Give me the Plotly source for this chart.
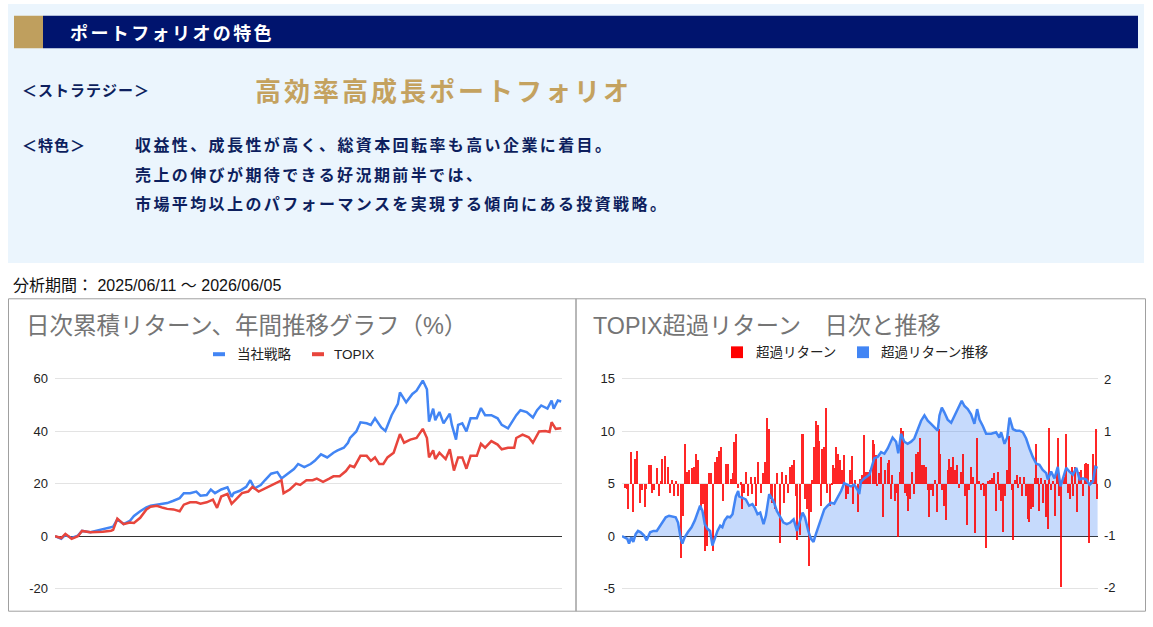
import plotly.graph_objects as go

# ---------------- data ----------------
# Left chart: cumulative daily return (%), x = trading-day index
strategy_day = [0, 3, 5, 8, 11, 13, 17, 20, 23, 27, 28, 30, 33, 36, 38, 41, 44, 46, 49, 52, 54, 57, 60, 62, 65,
                68, 70, 73, 75, 77, 80, 83, 85, 86, 89, 92, 94, 96, 99, 101, 104, 107, 109, 112, 115, 117, 120,
                123, 125, 128, 131, 134, 136, 139, 141, 142, 145, 147, 150, 152, 154, 157, 159, 162, 165, 166,
                169, 172, 174, 177, 179, 180, 182, 183, 185, 187, 190, 191, 193, 194, 196, 198, 200, 203, 205,
                207, 210, 213, 215, 218, 220, 222, 224, 227, 230, 232, 234, 237, 239, 240, 242, 243.6]
strategy_ret = [0, -1, 0.5, -0.7, 0.2, 2, 1.5, 2, 2.7, 3.3, 3.6, 6.4, 4.6, 5.8, 7.7, 9.5, 11, 11.6, 12, 12.6, 12.6,
                13.5, 14.5, 16.4, 16.4, 17, 15.4, 15.7, 17.8, 16.4, 17.8, 18.6, 15, 16.4, 17.3, 18.8, 21.3, 18.2,
                19.5, 21.3, 23.8, 24.4, 22, 23.8, 25.6, 27.5, 26.3, 27.5, 28.7, 31.2, 30, 31.8, 32.7, 33.7, 35.6,
                37.4, 39.9, 43.4, 43, 42.4, 44.9, 41.4, 40.1, 46.1, 50.4, 54.8, 51, 54.2, 55.4, 59.3, 56, 43.6,
                48.6, 44.2, 47.3, 43, 46.7, 42.4, 36.8, 42.4, 43, 39.9, 44.9, 44.9, 48.8, 46.1, 46.1, 44.9, 42.4,
                41.1, 43.6, 46.1, 48, 47.3, 45.2, 48, 49.8, 48.6, 51.7, 48.6, 51.7, 51.3]
topix_day = [0, 3, 5, 8, 11, 13, 17, 20, 23, 27, 28, 30, 33, 36, 38, 41, 44, 46, 49, 52, 54, 57, 60, 62, 65, 68,
             70, 73, 76, 78, 80, 83, 85, 87, 90, 93, 95, 98, 101, 103, 106, 109, 110, 113, 116, 118, 121, 124,
             126, 129, 132, 134, 137, 140, 142, 144, 147, 150, 152, 154, 156, 158, 160, 163, 166, 168, 171, 174,
             177, 179, 180, 182, 183, 185, 188, 190, 192, 194, 196, 198, 200, 203, 205, 207, 210, 213, 215, 218,
             221, 222, 225, 228, 230, 233, 236, 238, 239, 241, 243.6]
topix_ret = [0, -0.7, 0.9, -1, 0, 2, 1.5, 1.5, 1.7, 2.1, 2.4, 6.7, 4.6, 5.2, 5, 7, 10.2, 11.2, 11.6, 10.8, 10.4,
             10.2, 9.5, 12, 12.9, 12.9, 12.4, 12.9, 13.9, 10.8, 15.1, 16.1, 12.3, 13.9, 16.4, 17, 18.8, 17, 18.2,
             18.8, 20, 21.3, 16.4, 17.8, 20, 19.5, 21.3, 21.3, 21.9, 20.7, 21.9, 22.8, 22.8, 24.8, 26.9, 26.3,
             30.6, 30.6, 28.7, 30, 27.5, 27.5, 30, 31.8, 38.9, 35.6, 36.8, 37.4, 40.9, 37.4, 30, 32.7, 29.4, 31.8,
             29.4, 33.1, 25, 30, 30, 25.7, 30.6, 30.6, 35.2, 33.7, 36.2, 34.9, 33.1, 33.7, 33.7, 37.4, 38.7, 37.7,
             35.6, 39.9, 40.1, 39.7, 43.4, 40.9, 41.1]

# Right chart: daily excess return (right axis) and its running total (left axis)
excess_day = [1.5, 2.4, 3.2, 4.8, 5.6, 6.7, 7.9, 9.2, 10.4, 11.6, 12.6, 13.8, 14.7, 15.5, 16.6, 17.8, 19.0, 19.8,
              20.7, 22.0, 23.4, 24.6, 25.6, 26.7, 27.9, 28.9, 30.1, 31.3, 32.3, 33.5, 34.4, 35.7, 36.9, 38.1, 39.1,
              40.3, 41.5, 42.6, 43.6, 44.6, 45.5, 46.8, 47.7, 48.7, 49.7, 50.6, 51.8, 53.2, 54.2, 55.7, 56.9, 57.6,
              58.6, 59.6, 61.0, 61.7, 62.7, 63.4, 64.6, 66.0, 66.8, 68.0, 68.5, 69.9, 71.1, 72.3, 73.3, 74.5, 75.4,
              76.2, 77.1, 78.5, 79.7, 80.9, 82.2, 83.1, 83.9, 85.3, 86.2, 87.3, 88.2, 89.1, 89.9, 91.1, 92.1, 92.8,
              93.7, 94.9, 95.9, 96.8, 97.6, 98.5, 99.3, 100.3, 101.0, 101.9, 102.7, 103.6, 104.4, 105.3, 106.5,
              107.4, 108.2, 109.3, 109.9, 110.9, 111.9, 113.0, 114.0, 114.7, 115.7, 116.8, 117.8, 118.5, 119.5,
              120.7, 121.9, 122.9, 123.8, 125.0, 126.0, 127.1,
              128.4, 129.2, 130.1, 130.9, 131.8, 132.8, 133.8, 134.9, 136.1, 136.9, 137.8, 138.6, 139.7, 140.7,
              141.4, 142.4, 143.1, 144.1, 145.1, 146.2, 146.8, 147.5, 148.5, 149.6, 150.6, 151.6, 152.7, 153.7,
              154.7, 155.7, 156.6, 157.4, 158.5, 159.5, 160.5, 161.5, 162.2, 163.1, 163.9, 164.9, 166.0, 167.0,
              167.7, 168.7, 169.7, 170.8, 171.8, 172.8, 173.8, 174.9, 175.9, 176.6, 177.6, 178.6, 179.7, 180.7,
              181.7, 182.7, 183.8, 184.8, 185.6, 186.5, 187.5, 188.6, 189.6, 190.6, 191.6, 192.7, 193.3, 194.0,
              195.0, 196.1, 197.1, 198.1, 198.8, 199.8, 200.5, 201.2, 202.2, 202.9, 203.9, 205.0, 206.0, 207.0,
              207.9, 208.7, 209.7, 210.4, 211.5, 212.1, 213.2, 213.8, 214.9, 215.6, 216.6, 217.3, 218.3, 219.0,
              219.8, 220.7, 221.7, 222.7, 223.4, 224.1, 225.1, 226.2, 226.8, 227.5, 228.5, 229.6, 230.6, 231.3,
              232.3, 233.0, 234.0, 235.1, 236.1, 237.1, 237.8, 238.5, 239.5, 240.2, 241.2, 241.9, 242.6, 243.6]
excess_ret = [-0.07, -0.1, -0.48, 0.61, -0.53, 0.49, 0.64, -0.36, -0.11, -0.45, -0.1, 0.36, 0.36, -0.17, -0.11,
              0.30, -0.23, 0.05, 0.49, 0.53, 0.33, -0.17, 0.07, -0.23, 0.05, -0.23, -1.42, -0.61, 0.77, 0.24, 0.27,
              0.30, 0.33, 0.58, 0.46, -0.48, -0.39, -1.29, -1.2, 0.22, 0.21, -1.29, 0.43, 0.52, 0.64, 0.71, -0.33,
              0.39, 0.38, 0.09, 0.21, 0.80, 0.96, -0.07, 0.03, -0.48, -0.17, 0.24, -0.23, 0.14, -0.2, 0.14, -0.42,
              0.43, -0.17, 0.21, 0.43, 1.27, 1.05, -0.29, -0.36, -0.48, 0.21, -1.14, 0.24, -0.36, 0.18, -0.17, 0.33,
              0.36, 0.46, -0.23, -1.08, -0.98, 0.96, 0.96, -0.29, -0.48, -1.58, -0.54, 0.08, 0.71, 1.21, 1.14, 0.83,
              -0.42, 0.68, 0.71, 1.46, -0.17, -0.42, 0.02, 0.36, 0.3, 0.71, 0.58, 0.46, 0.27, 0.55, -0.29, -0.2,
              0.27, 0.53, -0.39, 0.08, -0.54, 0.09, 0.18, 0.94, 0.24, 0.24, 0.27,
              0.84, 0.77, 0.55, -0.04, 0.21, 0.52, -0.64, 0.27, 0.41, 0.46, -0.29, 0.18, -0.33, -0.17, -1.01, 0.24,
              1.08, 1.02, -0.17, -0.23, -0.51, -0.29, 0.24, -0.2, 0.58, 0.61, 0.89, 0.36, 0.36, 0.33, -0.11, -0.64,
              -0.11, -0.23, 0.08, -0.54, 1.05, 0.58, -0.11, -0.42, -0.7, 0.27, 0.49, 0.33, 0.52, 0.27, 0.36, -0.07,
              0.24, 0.58, -0.23, -0.79, -0.11, 0.33, 0.14, -0.95, 0.89, 0.05, -0.11, 0.02, -0.23, -1.23, 0.05, 0.08,
              0.11, 0.21, -0.51, 0.24, -0.11, -0.33, -0.92, -0.23, 0.27, 0.93, 0.71, -0.11, -1.08, 0.08, 0.18,
              -0.07, 0.14, -0.23, 0.14, -0.23, -0.67, -0.73, -0.48, -0.45, 0.11, 0.77, 0.11, -0.51, 0.11, -0.36,
              0.08, -0.64, -0.86, 1.08, -0.11, 0.05, -0.61, 0.21, 0.89, -0.23, -1.98, 0.11, 0.14, 0.96, -0.17,
              -0.29, 0.33, -0.23, 0.33, -0.54, 0.24, 0.27, -0.23, 0.39, 0.41, 0.39, -1.14, 0.08, 0.58, 0.27, 1.05,
              -0.29]
cum_day = [0, 2.7, 3.6, 4.8, 5.8, 7.0, 8.2, 9.6, 11.3, 12.6, 14.4, 16.1, 17.8, 19.0, 20.7, 22.4, 24.1, 25.8, 27.5,
           28.7, 30.1, 30.9, 32.1, 33.8, 35.6, 37.3, 39.0, 40.0, 41.2, 42.4, 43.8, 45.1, 46.3, 47.5, 48.9, 50.3,
           51.4, 52.6, 54.0, 55.4, 56.6, 58.3, 59.5, 60.0, 61.7, 63.4, 65.1, 66.8, 68.0, 69.4, 70.8, 72.5, 73.7,
           75.4, 76.6, 77.9, 79.3, 81.0, 82.7, 84.4, 86.2, 87.9, 89.6, 90.9, 92.5, 93.7, 95.4, 96.8, 98.1, 99.3,
           101.0, 102.2, 103.6, 105.3, 107.0, 108.7, 110.4, 112.2, 113.8, 115.5, 117.3, 119.0, 120.7, 121.5, 122.4,
           124.1, 126.7, 129.2, 130.9, 132.7, 134.4, 136.1, 137.4, 138.6, 140.4, 141.5, 142.9, 144.6, 146.3, 148.1,
           149.7, 151.4, 153.2, 154.9, 156.6, 158.3, 160.0, 161.7, 162.6, 163.8, 165.1, 166.8, 168.6, 170.3, 171.9,
           174.0, 175.4, 177.1, 178.8, 180.5, 181.9, 183.1, 184.8, 186.5, 189.1, 191.6, 193.3, 194.2, 195.9, 197.3,
           198.5, 200.2, 201.9, 203.6, 205.3, 207.0, 208.7, 210.4, 212.2, 213.8, 215.5, 217.3, 218.1, 219.8, 221.5,
           223.2, 224.6, 225.8, 227.5, 229.2, 230.9, 232.7, 234.4, 236.1, 237.8, 239.5, 241.2, 242.4, 243.6]
cum_ret = [0, -0.25, -0.7, -0.1, -0.55, 0.2, 0.5, 0.37, 0.06, -0.4, 0.37, 0.5, 0.5, 0.85, 1.3, 1.8, 1.95, 1.85, 1.8,
           1.3, -0.25, -0.7, -0.1, 0.4, 0.85, 1.5, 2.4, 2.9, 2.4, 1.15, 0.7, 0.5, -0.9, -0.25, 0.5, 1.0, 0.85, 1.5,
           1.85, 1.8, 2.1, 3.8, 4.3, 3.8, 3.65, 3.5, 2.9, 3.05, 2.7, 2.1, 2.25, 1.15, 1.95, 4.0, 3.65, 3.2, 2.4, 1.8,
           1.3, 1.15, 1.3, 1.6, 0.5, 1.3, 2.25, 1.8, 0.5, -0.25, -0.55, 0.2, 1.15, 1.8, 2.55, 2.9, 3.2, 3.1, 3.7,
           4.3, 5.05, 4.9, 4.75, 4.9, 4.4, 4.0, 5.2, 5.5, 5.85, 7.4, 7.55, 8.0, 7.85, 8.35, 9.0, 9.4, 9.0, 7.9,
           9.75, 9.0, 8.8, 9.0, 9.3, 10.2, 11.0, 11.5, 11.0, 10.7, 10.4, 10.05, 11.5, 12.25, 11.8, 11.1, 10.8,
           11.5, 12.1, 12.9, 12.4, 12.1, 11.6, 10.7, 12.1, 11.1, 10.5, 9.75, 9.75, 9.9, 9.4, 9.9, 8.8, 9.4, 11.3,
           10.2, 10.05, 10.05, 9.9, 9.3, 8.35, 7.55, 6.9, 6.8, 6.3, 6.0, 5.4, 6.15, 5.5, 6.6, 4.75, 5.5, 6.5,
           6.15, 5.85, 6.5, 5.4, 5.5, 5.4, 4.9, 5.2, 6.6, 6.5]

left_tickvals = [-20, 0, 20, 40, 60]
left_ticktext = ["-20", "0", "20", "40", "60"]
right_l_tickvals = [-5, 0, 5, 10, 15]
right_l_ticktext = ["-5", "0", "5", "10", "15"]
right_r_tickvals = [-2, -1, 0, 1, 2]
right_r_ticktext = ["-2", "-1", "0", "1", "2"]

# ---------------- layout helpers ----------------
W, H = 1153, 627
def X(p): return p / W
def Y(p): return 1 - p / H

JP = "Noto Sans CJK JP, sans-serif"
AR = "Liberation Sans, Arial, Noto Sans CJK JP, sans-serif"
NAVY = "#0D1F5E"
GOLD = "#C4A25F"
BLUE = "#4285F4"

fig = go.Figure()
fig.add_trace(go.Scatter(x=strategy_day, y=strategy_ret, mode="lines", line=dict(color=BLUE, width=2.5),
                         xaxis="x", yaxis="y", showlegend=False, hoverinfo="skip"))
fig.add_trace(go.Scatter(x=topix_day, y=topix_ret, mode="lines", line=dict(color="#E8453C", width=2.5),
                         xaxis="x", yaxis="y", showlegend=False, hoverinfo="skip"))
# area fill (base axis y3, left side)
fig.add_trace(go.Scatter(x=cum_day, y=cum_ret, mode="lines", fill="tozeroy", fillcolor="rgba(66,133,244,0.3)",
                         line=dict(color="rgba(0,0,0,0)", width=0), xaxis="x2", yaxis="y3",
                         showlegend=False, hoverinfo="skip"))
# daily bars (overlay axis y4, right side)
fig.add_trace(go.Bar(x=excess_day, y=excess_ret, width=0.65, opacity=0.85,
                     marker=dict(color="#FF0000", line=dict(width=0)),
                     xaxis="x2", yaxis="y4", showlegend=False, hoverinfo="skip"))
# running-total line on top (overlay axis y5, same scale as y3)
fig.add_trace(go.Scatter(x=cum_day, y=cum_ret, mode="lines", line=dict(color=BLUE, width=2.5),
                         xaxis="x2", yaxis="y5", showlegend=False, hoverinfo="skip"))

tickfont = dict(family=AR, size=13, color="#222222")
ydom = [Y(595.1), Y(378.9)]

fig.update_layout(
    width=W, height=H, margin=dict(l=0, r=0, t=0, b=0),
    paper_bgcolor="white", plot_bgcolor="rgba(0,0,0,0)", showlegend=False, bargap=0,
    xaxis=dict(domain=[X(55), X(562)], range=[0, 244], visible=False, anchor="y"),
    yaxis=dict(domain=ydom, range=[-20.4, 60.4], anchor="x", tickvals=left_tickvals, ticktext=left_ticktext,
               showgrid=True, gridcolor="#E3E3E3", gridwidth=1, zeroline=True, zerolinecolor="#333333",
               zerolinewidth=1, showline=False, ticks="", tickfont=tickfont, ticklabelstandoff=6),
    xaxis2=dict(domain=[X(622), X(1098)], range=[0, 243.8], visible=False, anchor="y3"),
    yaxis3=dict(domain=ydom, range=[-5.1, 15.1], anchor="x2", side="left", tickvals=right_l_tickvals,
                ticktext=right_l_ticktext, showgrid=True, gridcolor="#E3E3E3", gridwidth=1, zeroline=True,
                zerolinecolor="#333333", zerolinewidth=1, showline=False, ticks="", tickfont=tickfont,
                ticklabelstandoff=6),
    yaxis4=dict(overlaying="y3", anchor="x2", side="right", range=[-2.04, 2.04], tickvals=right_r_tickvals,
                ticktext=right_r_ticktext, showgrid=False, zeroline=False, showline=False, ticks="",
                tickfont=tickfont, ticklabelstandoff=5),
    yaxis5=dict(overlaying="y3", anchor="x2", range=[-5.1, 15.1], visible=False),
)

shapes = [
    dict(type="rect", xref="paper", yref="paper", x0=X(8), x1=X(1144), y0=Y(262), y1=Y(-2),
         fillcolor="#EBF5FD", line=dict(width=0), layer="below"),
    dict(type="rect", xref="paper", yref="paper", x0=X(14), x1=X(43), y0=Y(43), y1=Y(10),
         fillcolor="#BF9F5E", line=dict(width=0)),
    dict(type="rect", xref="paper", yref="paper", x0=X(43), x1=X(1138), y0=Y(43), y1=Y(10),
         fillcolor="#00146E", line=dict(width=0)),
    dict(type="rect", xref="paper", yref="paper", x0=X(8.5), x1=X(576), y0=Y(617), y1=Y(298.5),
         line=dict(color="#A0A0A0", width=1)),
    dict(type="rect", xref="paper", yref="paper", x0=X(576), x1=X(1145.5), y0=Y(617), y1=Y(298.5),
         line=dict(color="#A0A0A0", width=1)),
    # legend markers
    dict(type="line", xref="paper", yref="paper", x0=X(213), x1=X(225), y0=Y(355), y1=Y(355),
         line=dict(color=BLUE, width=4)),
    dict(type="line", xref="paper", yref="paper", x0=X(312), x1=X(324), y0=Y(355), y1=Y(355),
         line=dict(color="#E8453C", width=4)),
    dict(type="rect", xref="paper", yref="paper", x0=X(731), x1=X(743), y0=Y(359), y1=Y(347),
         fillcolor="#FF0000", line=dict(width=0)),
    dict(type="rect", xref="paper", yref="paper", x0=X(857), x1=X(869), y0=Y(359), y1=Y(347),
         fillcolor=BLUE, line=dict(width=0)),
]
fig.update_layout(shapes=shapes)

def ann(x, y, text, size, color, family=JP, ls=None, bold=False):
    t = text
    if bold:
        t = "<b>" + t + "</b>"
    if ls is not None:
        t = '<span style="letter-spacing:%spx">' % ls + t + "</span>"
    return dict(xref="paper", yref="paper", x=X(x), y=Y(y), xanchor="left", yanchor="middle",
                text=t, showarrow=False, font=dict(family=family, size=size, color=color))

annotations = [
    ann(68, 26, "ポートフォリオの特色", 18, "white", ls=2.4, bold=True),
    ann(20, 85, "＜ストラテジー＞", 15, NAVY, ls=1, bold=True),
    ann(253, 85, "高効率高成長ポートフォリオ", 26, GOLD, ls=3, bold=True),
    ann(20, 141, "＜特色＞", 15, NAVY, ls=1, bold=True),
    ann(133, 141, "収益性、成長性が高く、総資本回転率も高い企業に着目。", 16, NAVY, ls=2.4, bold=True),
    ann(133, 171, "売上の伸びが期待できる好況期前半では、", 16, NAVY, ls=2.4, bold=True),
    ann(133, 201, "市場平均以上のパフォーマンスを実現する傾向にある投資戦略。", 16, NAVY, ls=2.4, bold=True),
    ann(11, 285, "分析期間： 2025/06/11 ～ 2026/06/05", 16, "#111111", family=AR),
    ann(24, 326, "日次累積リターン、年間推移グラフ（%）", 23.5, "#757575", family=AR),
    ann(591, 326, "TOPIX超過リターン　日次と推移", 23.3, "#757575", family=AR),
    ann(235, 355, "当社戦略", 13.5, "#222222", family=AR),
    ann(332, 355, "TOPIX", 13.5, "#222222", family=AR),
    ann(754, 353, "超過リターン", 13.5, "#222222", family=AR),
    ann(879, 353, "超過リターン推移", 13.5, "#222222", family=AR),
]
fig.update_layout(annotations=annotations)

fig.write_html("out.html", config={"displayModeBar": False},
               post_script="document.body.style.margin='0';document.body.style.overflow='hidden';")
